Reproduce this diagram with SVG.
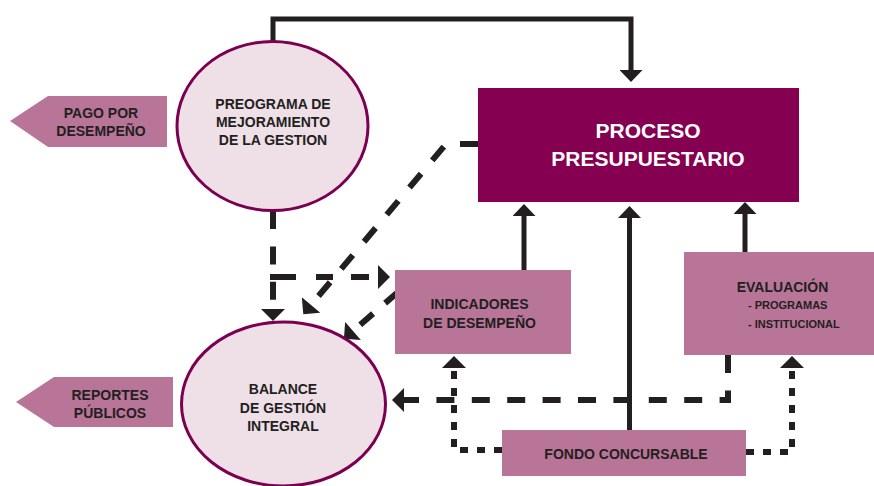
<svg xmlns="http://www.w3.org/2000/svg" width="874" height="486" viewBox="0 0 874 486">
<style>
.t{font-family:"Liberation Sans",Arial,sans-serif;font-weight:bold;fill:#231f20;text-anchor:middle}
.w{fill:#ffffff}
.ell{fill:#efdfe7;stroke:#7b0051;stroke-width:3}
.pink{fill:#b87598}
.solid{fill:none;stroke:#231f20;stroke-width:5}
.dash{fill:none;stroke:#231f20;stroke-width:6;stroke-dasharray:18 17.4}
.dot{fill:none;stroke:#231f20;stroke-width:6;stroke-dasharray:8 9}
</style>
<defs>
<marker id="ah" markerUnits="userSpaceOnUse" markerWidth="14" markerHeight="24" refX="0" refY="11" orient="auto" viewBox="0 0 12 22">
<path d="M0,0 L11,11 L0,22 z" fill="#231f20"/>
</marker>
<marker id="ahs" markerUnits="userSpaceOnUse" markerWidth="13" markerHeight="23" refX="0" refY="10.5" orient="auto" viewBox="0 0 11 21">
<path d="M0,0 L11,10.5 L0,21 z" fill="#231f20"/>
</marker>
</defs>
<rect width="874" height="486" fill="#ffffff"/>
<g id="connectors">
<path class="solid" d="M273,41 V19 H631 V70" marker-end="url(#ahs)"/>
<path class="solid" d="M524,270 V216" marker-end="url(#ahs)"/>
<path class="solid" d="M629.5,430 V218" marker-end="url(#ahs)"/>
<path class="solid" d="M745,252 V214" marker-end="url(#ahs)"/>
<path class="dash" d="M273,211 V309" marker-end="url(#ah)"/>
<path class="dash" d="M270,277 H378" style="stroke-dasharray:26 20 17 18 18 20" marker-end="url(#ah)"/>
<path class="dash" d="M478,144 L446,144 L311,305" marker-end="url(#ah)"/>
<path class="dash" d="M398,292 L353,331" style="stroke-dasharray:17 16" marker-end="url(#ah)"/>
<path class="dash" d="M728,355 V400 H404" marker-end="url(#ah)"/>
<path class="dot" d="M502,450 H454 V368" marker-end="url(#ah)"/>
<path class="dot" d="M746,452 H792 V368" marker-end="url(#ah)"/>
</g>
<g id="pago">
<polygon class="pink" points="10,121 48,96 167,96 167,147 48,147"/>
<text class="t" x="101" y="118" font-size="14">PAGO POR</text>
<text class="t" x="101" y="136" font-size="14">DESEMPEÑO</text>
</g>
<g id="pmg">
<ellipse class="ell" cx="272.5" cy="126" rx="95.5" ry="84.5"/>
<text class="t" x="273" y="109" font-size="14">PREOGRAMA DE</text>
<text class="t" x="273" y="127" font-size="14">MEJORAMIENTO</text>
<text class="t" x="273" y="144.5" font-size="14">DE LA GESTION</text>
</g>
<g id="proceso">
<rect x="478" y="88" width="321" height="114" fill="#850050"/>
<text class="t w" x="648" y="138" font-size="21">PROCESO</text>
<text class="t w" x="648" y="165.5" font-size="21">PRESUPUESTARIO</text>
</g>
<g id="indicadores">
<rect class="pink" x="395" y="270" width="176" height="84"/>
<text class="t" x="479.5" y="309" font-size="14">INDICADORES</text>
<text class="t" x="479.5" y="327.5" font-size="14">DE DESEMPEÑO</text>
</g>
<g id="evaluacion">
<rect class="pink" x="684" y="252" width="190" height="103"/>
<text class="t" x="782.5" y="291.5" font-size="14">EVALUACIÓN</text>
<text class="t" x="748" y="309" font-size="11" style="text-anchor:start">- PROGRAMAS</text>
<text class="t" x="748" y="327.5" font-size="11" style="text-anchor:start">- INSTITUCIONAL</text>
</g>
<g id="fondo">
<rect class="pink" x="502" y="430" width="244" height="46"/>
<text class="t" x="626" y="459" font-size="14">FONDO CONCURSABLE</text>
</g>
<g id="balance">
<ellipse class="ell" cx="283.5" cy="404" rx="102" ry="82"/>
<text class="t" x="283" y="394" font-size="14">BALANCE</text>
<text class="t" x="283" y="412.5" font-size="14">DE GESTIÓN</text>
<text class="t" x="283" y="431" font-size="14">INTEGRAL</text>
</g>
<g id="reportes">
<polygon class="pink" points="16,402 54,377 173,377 173,427 54,427"/>
<text class="t" x="110" y="400" font-size="14">REPORTES</text>
<text class="t" x="110" y="418" font-size="14">PÚBLICOS</text>
</g>
</svg>
